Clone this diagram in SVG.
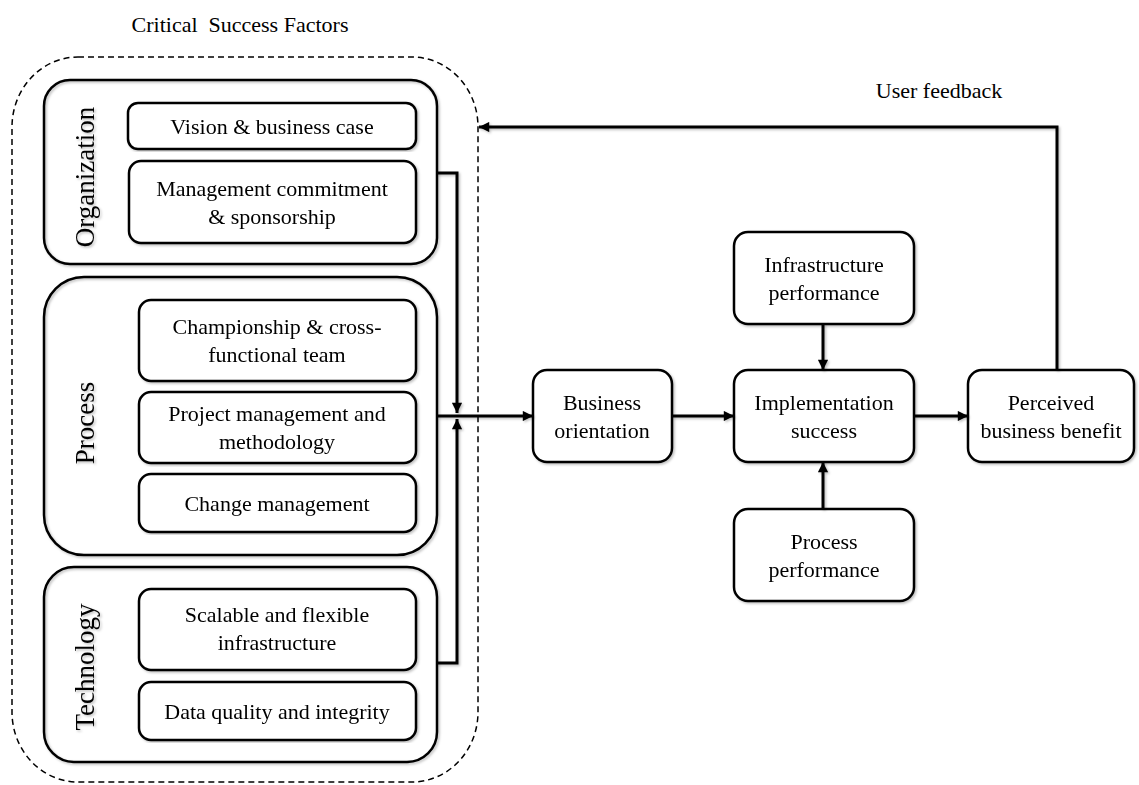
<svg xmlns="http://www.w3.org/2000/svg" width="1139" height="785" viewBox="0 0 1139 785">
  <style>
    .box { fill: #fff; stroke: #000; stroke-width: 2.5; }
    .grp { fill: none; stroke: #000; stroke-width: 2.5; }
    .frame { fill: none; stroke: #000; stroke-width: 1.5; stroke-dasharray: 6 4; }
    .wire { fill: none; stroke: #000; stroke-width: 3; }
    text { font-family: "Liberation Serif", "Times New Roman", serif; font-size: 22px; fill: #000; text-anchor: middle; }
    .side { font-size: 27px; }
  </style>
  <defs>
    <marker id="arrow" viewBox="0 0 10 10" refX="10" refY="5" markerWidth="4" markerHeight="3.4" markerUnits="strokeWidth" orient="auto">
      <path d="M0,0 L10,5 L0,10 Z" fill="#000"/>
    </marker>
    <filter id="soft" x="-5%" y="-5%" width="110%" height="110%">
      <feDropShadow dx="1.5" dy="1.5" stdDeviation="1.2" flood-color="#000" flood-opacity="0.25"/>
    </filter>
  </defs>

  <!-- Critical success factors frame -->
  <g id="csf">
    <rect class="frame" x="12" y="57" width="466" height="725" rx="66" ry="70"/>
    <text x="240" y="32" xml:space="preserve">Critical  Success Factors</text>
  </g>

  <!-- Organization group -->
  <g id="organization" filter="url(#soft)">
    <rect class="grp" x="44" y="80" width="393" height="184" rx="26"/>
    <text class="side" transform="translate(94,177) rotate(-90)">Organization</text>
  </g>
  <g id="vision" filter="url(#soft)">
    <rect class="box" x="128" y="103" width="288" height="46" rx="10"/>
    <text x="272" y="134">Vision &amp; business case</text>
  </g>
  <g id="mgmt" filter="url(#soft)">
    <rect class="box" x="129" y="161" width="287" height="82" rx="12"/>
    <text x="272" y="196">Management commitment</text>
    <text x="272" y="224">&amp; sponsorship</text>
  </g>

  <!-- Process group -->
  <g id="process" filter="url(#soft)">
    <rect class="grp" x="44" y="277" width="393" height="278" rx="40"/>
    <text class="side" transform="translate(94,423) rotate(-90)">Process</text>
  </g>
  <g id="championship" filter="url(#soft)">
    <rect class="box" x="139" y="300" width="277" height="81" rx="12"/>
    <text x="277" y="334">Championship &amp; cross-</text>
    <text x="277" y="362">functional team</text>
  </g>
  <g id="pm" filter="url(#soft)">
    <rect class="box" x="139" y="392" width="277" height="71" rx="12"/>
    <text x="277" y="421">Project management and</text>
    <text x="277" y="449">methodology</text>
  </g>
  <g id="change" filter="url(#soft)">
    <rect class="box" x="139" y="474" width="277" height="58" rx="12"/>
    <text x="277" y="511">Change management</text>
  </g>

  <!-- Technology group -->
  <g id="technology" filter="url(#soft)">
    <rect class="grp" x="44" y="567" width="393" height="195" rx="30"/>
    <text class="side" transform="translate(94,667) rotate(-90)">Technology</text>
  </g>
  <g id="scalable" filter="url(#soft)">
    <rect class="box" x="139" y="589" width="277" height="81" rx="12"/>
    <text x="277" y="622">Scalable and flexible</text>
    <text x="277" y="650">infrastructure</text>
  </g>
  <g id="dataq" filter="url(#soft)">
    <rect class="box" x="139" y="682" width="277" height="58" rx="12"/>
    <text x="277" y="719">Data quality and integrity</text>
  </g>

  <!-- Outcome chain -->
  <g id="business" filter="url(#soft)">
    <rect class="box" x="533" y="370" width="139" height="92" rx="14"/>
    <text x="602" y="410">Business</text>
    <text x="602" y="438">orientation</text>
  </g>
  <g id="infra" filter="url(#soft)">
    <rect class="box" x="734" y="232" width="180" height="92" rx="14"/>
    <text x="824" y="272">Infrastructure</text>
    <text x="824" y="300">performance</text>
  </g>
  <g id="impl" filter="url(#soft)">
    <rect class="box" x="734" y="370" width="180" height="92" rx="14"/>
    <text x="824" y="410">Implementation</text>
    <text x="824" y="438">success</text>
  </g>
  <g id="procperf" filter="url(#soft)">
    <rect class="box" x="734" y="509" width="180" height="92" rx="14"/>
    <text x="824" y="549">Process</text>
    <text x="824" y="577">performance</text>
  </g>
  <g id="benefit" filter="url(#soft)">
    <rect class="box" x="968" y="370" width="166" height="92" rx="14"/>
    <text x="1051" y="410">Perceived</text>
    <text x="1051" y="438">business benefit</text>
  </g>

  <text x="939" y="98">User feedback</text>

  <!-- Connectors -->
  <g id="connectors" filter="url(#soft)">
    <polyline class="wire" points="437,173 457,173 457,413" marker-end="url(#arrow)"/>
    <polyline class="wire" points="437,663 457,663 457,419" marker-end="url(#arrow)"/>
    <line class="wire" x1="437" y1="416" x2="533" y2="416" marker-end="url(#arrow)"/>
    <line class="wire" x1="672" y1="416" x2="734" y2="416" marker-end="url(#arrow)"/>
    <line class="wire" x1="914" y1="416" x2="968" y2="416" marker-end="url(#arrow)"/>
    <line class="wire" x1="823" y1="324" x2="823" y2="370" marker-end="url(#arrow)"/>
    <line class="wire" x1="823" y1="509" x2="823" y2="462" marker-end="url(#arrow)"/>
    <polyline class="wire" points="1057,370 1057,127 479,127" marker-end="url(#arrow)"/>
  </g>
</svg>
